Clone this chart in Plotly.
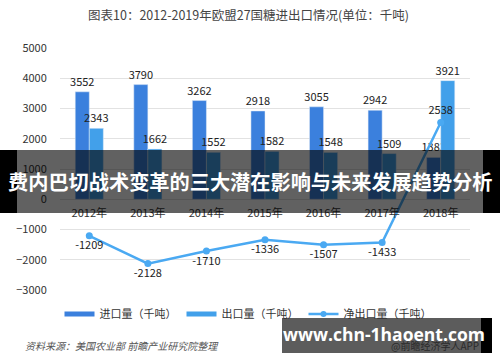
import plotly.graph_objects as go

years = ["2012年", "2013年", "2014年", "2015年", "2016年", "2017年", "2018年"]
imports = [3552, 3790, 3262, 2918, 3055, 2942, 1383]
exports = [2343, 1662, 1552, 1582, 1548, 1509, 3921]
net_exports = [-1209, -2128, -1710, -1336, -1507, -1433, 2538]

title_text = "图表10：2012-2019年欧盟27国糖进出口情况(单位：千吨)"
source_text = "资料来源：美国农业部 前瞻产业研究院整理"
brand_text = "@前瞻经济学人APP"
banner_text = "费内巴切战术变革的三大潜在影响与未来发展趋势分析"
url_text = "www.chn-1haoent.com"
names = ["进口量（千吨）", "出口量（千吨）", "净出口量（千吨）"]

C_IMP = "#3b80dd"
C_EXP = "#42a0ea"
C_NET = "#4aa9f2"
FONT = "Noto Sans CJK SC"

fig = go.Figure()
fig.add_trace(go.Bar(x=years, y=imports, name=names[0], marker_color=C_IMP,
                     text=[str(v) for v in imports], textposition="outside",
                     constraintext="none", cliponaxis=False,
                     textfont=dict(size=11, color="#222"), showlegend=False))
fig.add_trace(go.Bar(x=years, y=exports, name=names[1], marker_color=C_EXP,
                     text=[str(v) for v in exports], textposition="outside",
                     constraintext="none", cliponaxis=False,
                     textfont=dict(size=11, color="#222"), showlegend=False))
fig.add_trace(go.Scatter(x=years, y=net_exports, name=names[2], mode="lines+markers+text",
                         line=dict(color=C_NET, width=2.5), marker=dict(size=7, color=C_NET),
                         text=[str(v) for v in net_exports],
                         textposition=["bottom center"] * 6 + ["top center"],
                         textfont=dict(size=11, color="#222"), cliponaxis=False,
                         showlegend=False))
# legend entries
fig.add_trace(go.Scatter(x=[None], y=[None], mode="lines", name=names[0],
                         line=dict(color=C_IMP, width=5)))
fig.add_trace(go.Scatter(x=[None], y=[None], mode="lines", name=names[1],
                         line=dict(color=C_EXP, width=5)))
fig.add_trace(go.Scatter(x=[None], y=[None], mode="lines+markers", name=names[2],
                         line=dict(color=C_NET, width=2.5), marker=dict(size=6, color=C_NET)))

W, H, L, R, T, B = 500, 362, 60, 30, 48, 72
pw, ph = W - L - R, H - T - B
def px(xp):
    return (xp - L) / pw
def py(yp):
    return (H - B - yp) / ph

fig.update_layout(
    width=W, height=H,
    margin=dict(l=L, r=R, t=T, b=B),
    paper_bgcolor="white", plot_bgcolor="white",
    font=dict(family=FONT, size=11, color="#333"),
    barmode="group", bargap=0.52, bargroupgap=0,
    showlegend=True,
    legend=dict(orientation="h", x=px(248), xanchor="center", y=py(314), yanchor="middle",
                font=dict(size=11, color="#333"), itemwidth=30, tracegroupgap=0,
                bgcolor="rgba(0,0,0,0)"),
    xaxis=dict(anchor="free", position=0.375, showline=False, showgrid=False,
               ticks="outside", ticklen=4, tickcolor="rgba(0,0,0,0)",
               tickfont=dict(size=11, color="#333")),
    yaxis=dict(range=[-3000, 5000], dtick=1000, showgrid=True, gridcolor="#e2e2e2",
               gridwidth=1, zeroline=False, showline=False,
               ticks="outside", ticklen=10, tickcolor="rgba(0,0,0,0)",
               tickfont=dict(size=11, color="#333")),
)

shapes = [
    dict(type="rect", xref="paper", yref="paper", x0=px(17), x1=px(483), y0=py(213), y1=py(150),
         fillcolor="rgba(0,0,0,0.62)", line_width=0, layer="above"),
    dict(type="rect", xref="paper", yref="paper", x0=px(0), x1=px(17), y0=py(213), y1=py(150),
         fillcolor="black", line_width=0, layer="above"),
    dict(type="rect", xref="paper", yref="paper", x0=px(483), x1=px(500), y0=py(213), y1=py(150),
         fillcolor="black", line_width=0, layer="above"),
    dict(type="rect", xref="paper", yref="paper", x0=px(282), x1=px(481), y0=py(353), y1=py(318),
         fillcolor="rgba(0,0,0,0.64)", line_width=0, layer="above"),
    dict(type="rect", xref="paper", yref="paper", x0=px(481), x1=px(492), y0=py(353), y1=py(318),
         fillcolor="black", line_width=0, layer="above"),
]
fig.update_layout(shapes=shapes)

annotations = [
    dict(text=title_text, xref="paper", yref="paper", x=px(248), y=py(15),
         xanchor="center", yanchor="middle", showarrow=False,
         font=dict(size=12.5, color="#444", family=FONT)),
    dict(text="<i>" + source_text + "</i>", xref="paper", yref="paper", x=px(23), y=py(345),
         xanchor="left", yanchor="middle", showarrow=False,
         font=dict(size=10, color="#555", family=FONT)),
    dict(text=brand_text, xref="paper", yref="paper", x=px(481), y=py(345),
         xanchor="right", yanchor="middle", showarrow=False,
         font=dict(size=10, color="#2a2a2a", family=FONT)),
    dict(text="<b>" + banner_text + "</b>", xref="paper", yref="paper", x=px(250), y=py(182),
         xanchor="center", yanchor="middle", showarrow=False,
         font=dict(size=20.2, color="white", family=FONT)),
    dict(text="<b>" + url_text + "</b>", xref="paper", yref="paper", x=px(384), y=py(334),
         xanchor="center", yanchor="middle", showarrow=False,
         font=dict(size=17.5, color="white", family="Open Sans")),
]
fig.update_layout(annotations=annotations)

fig.write_html("out.html", config={"displayModeBar": False},
               post_script="document.body.style.margin='0';document.body.style.overflow='hidden';")
